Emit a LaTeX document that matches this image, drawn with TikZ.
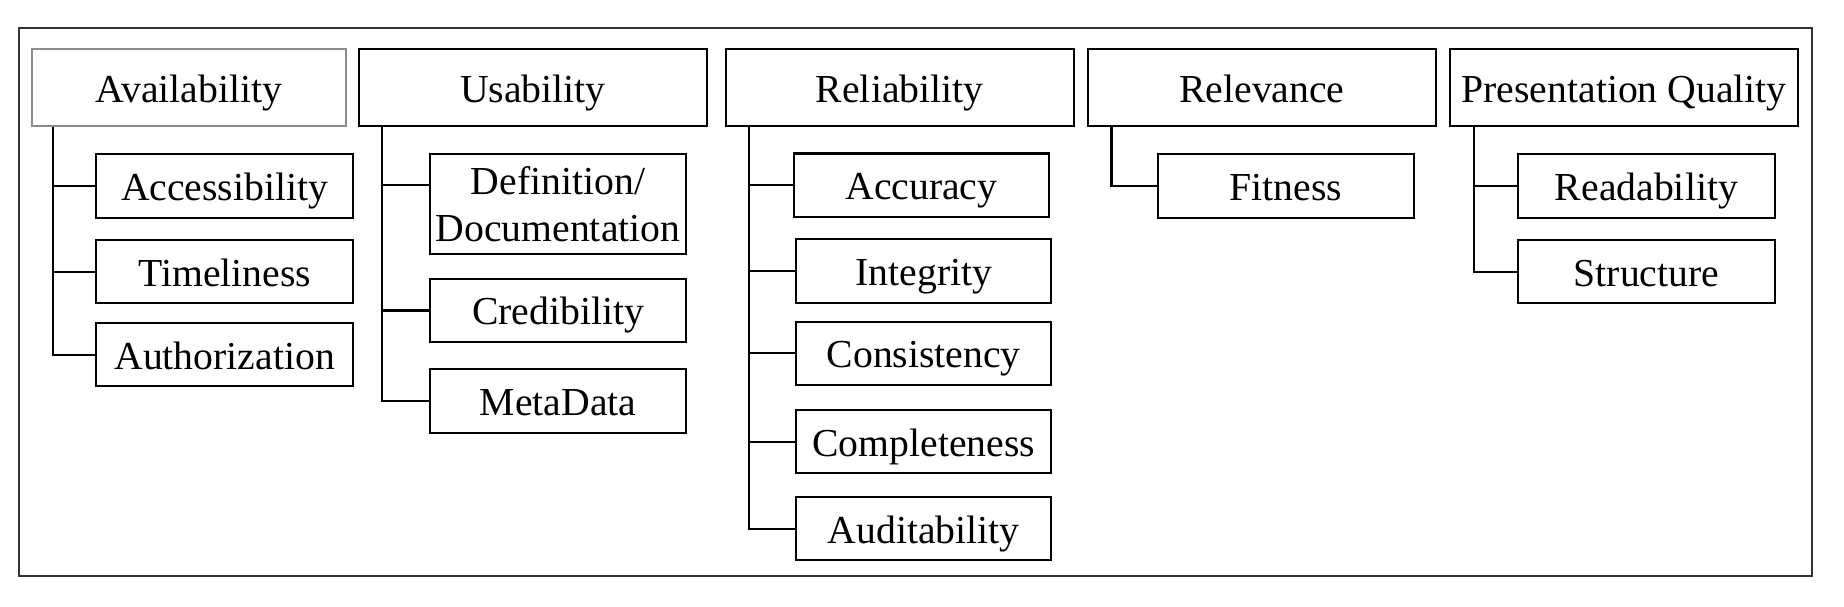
\documentclass[tikz,border=0pt]{standalone}
\usepackage{fontspec}
\setmainfont{Liberation Serif}
\usetikzlibrary{positioning}

\begin{document}
\begin{tikzpicture}[line width=0.5pt,
	every node/.style={font=\fontsize{9.6}{11.3}\selectfont, inner sep=0pt},
	oneline/.style={text height=7pt, text depth=0pt},
	cat/.style={draw, oneline, minimum width=2.96cm, minimum height=0.65cm},
	subbox/.style={draw, minimum width=2.18cm, minimum height=0.54cm, align=center},
	sub/.style={subbox, oneline}]
	\useasboundingbox (0,0) rectangle (15.68,-5.153);
	\draw[black!80] (0.16,-0.24) rectangle (15.41,-4.90);
	% categories
	\node[cat,draw=black!45,minimum width=2.67cm] (avail) at (1.605,-0.745) {Availability};
	\node[cat] (usab) at (4.53,-0.745) {Usability};
	\node[cat] (relia) at (7.65,-0.745) {Reliability};
	\node[cat] (relev) at (10.73,-0.745) {Relevance};
	\node[cat] (pq) at (13.81,-0.745) {Presentation Quality};
	% sub dimensions
	\node[sub] (acc) at (1.91,-1.58) {Accessibility};
	\node[sub] (time) at (1.91,-2.31) {Timeliness};
	\node[sub] (auth) at (1.91,-3.015) {Authorization};
	\node[subbox,minimum height=0.85cm] (def) at (4.745,-1.735) {Definition/\\Documentation};
	\node[sub] (cred) at (4.745,-2.64) {Credibility};
	\node[sub] (meta) at (4.745,-3.41) {MetaData};
	\node[sub,minimum width=2.17cm] (accur) at (7.835,-1.575) {Accuracy};
	\node[sub,minimum width=2.17cm] (integ) at (7.855,-2.305) {Integrity};
	\node[sub,minimum width=2.17cm] (cons) at (7.855,-3.005) {Consistency};
	\node[sub,minimum width=2.17cm] (compl) at (7.855,-3.755) {Completeness};
	\node[sub,minimum width=2.17cm] (audit) at (7.855,-4.495) {Auditability};
	\node[sub] (fit) at (10.935,-1.58) {Fitness};
	\node[sub] (read) at (14.00,-1.58) {Readability};
	\node[sub] (struct) at (14.00,-2.31) {Structure};
	% tree lines
	\foreach \c in {acc,time,auth}
		\draw ([xshift=1.9mm]avail.south west) |- (\c.west);
	\draw ([xshift=2.1mm]usab.south west) |- ([yshift=1.6mm]def.west);
	\foreach \c in {cred,meta}
		\draw ([xshift=2.1mm]usab.south west) |- (\c.west);
	\foreach \c in {accur,integ,cons,compl,audit}
		\draw ([xshift=2.1mm]relia.south west) |- (\c.west);
	\draw ([xshift=2.1mm]relev.south west) |- (fit.west);
	\foreach \c in {read,struct}
		\draw ([xshift=2.1mm]pq.south west) |- (\c.west);
\end{tikzpicture}
\end{document}
